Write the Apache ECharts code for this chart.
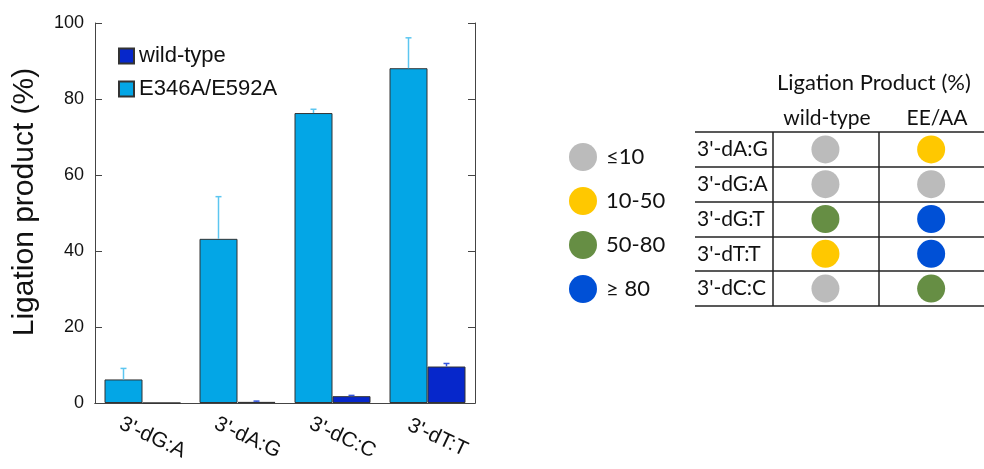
<!DOCTYPE html>
<html>
<head>
<meta charset="utf-8">
<script src="https://cdn.jsdelivr.net/npm/echarts@6/dist/echarts.min.js"></script>
<style>
html,body{margin:0;padding:0;background:#fff;}
#chart{width:984px;height:469px;}
</style>
</head>
<body>
<div id="chart"></div>
<script>
// ---- Bar chart data ----
const categories = ["3'-dG:A", "3'-dA:G", "3'-dC:C", "3'-dT:T"];
const mutantName = 'E346A/E592A';
const wildName = 'wild-type';
const mutantValues = [6.2, 43.2, 76.3, 88.1];
const mutantErrors = [2.9, 11.1, 1.0, 8.0];
const wildValues = [0, 0.3, 1.8, 9.6];
const wildErrors = [0, 0.2, 0.2, 0.8];

// ---- Table data ----
const tableRows = ["3'-dA:G", "3'-dG:A", "3'-dG:T", "3'-dT:T", "3'-dC:C"];
const tableColumns = ['wild-type', 'EE/AA'];
const levelNames = ['≤10', '10-50', '50-80', '≥ 80'];
const wildTypeLevels = [0, 0, 2, 1, 0];
const eeaaLevels = [1, 0, 3, 3, 2];

// ---- styles ----
const levelColors = ['#BBBBBB', '#FFC800', '#668E44', '#0050D6'];
const mutantColor = '#03A6E6';
const wildColor = '#0627CB';
const sansChart = '"Liberation Sans", Arial, sans-serif';
const sansTable = 'Lato, "Open Sans", sans-serif';

function errorSeries(name, values, errors, offsetFrac, color) {
  return {
    type: 'custom',
    name: name + ' err',
    xAxisIndex: 0, yAxisIndex: 0,
    silent: true,
    z: 3,
    data: values.map((v, i) => [i, v, errors[i]]),
    renderItem: function (params, api) {
      const cat = api.value(0), val = api.value(1), err = api.value(2);
      if (!err) return null;
      const band = api.size([1, 0])[0];
      const p = api.coord([cat, val]);
      const q = api.coord([cat, val + err]);
      const x = p[0] + offsetFrac * band;
      const st = { stroke: color, lineWidth: 1.5 };
      return {
        type: 'group',
        children: [
          { type: 'line', shape: { x1: x, y1: p[1], x2: x, y2: q[1] }, style: st },
          { type: 'line', shape: { x1: x - 3, y1: q[1], x2: x + 3, y2: q[1] }, style: st }
        ]
      };
    }
  };
}

const tableSeries = levelNames.map((lv, li) => {
  const data = [];
  tableRows.forEach((r, ri) => {
    if (wildTypeLevels[ri] === li) data.push([0, ri]);
    if (eeaaLevels[ri] === li) data.push([1, ri]);
  });
  return {
    type: 'scatter',
    name: lv,
    xAxisIndex: 2, yAxisIndex: 2,
    symbol: 'circle',
    symbolSize: 28,
    itemStyle: { color: levelColors[li], opacity: 1 },
    data: data,
    silent: true
  };
});
tableSeries[0].markLine = {
  silent: true,
  symbol: ['none', 'none'],
  label: { show: false },
  lineStyle: { color: '#222', width: 1.5, type: 'solid' },
  data: [{ xAxis: -0.5 }, { xAxis: 0.5 }]
};

const axisColor = '#444';
const chart = echarts.init(document.getElementById('chart'), null, { renderer: 'canvas' });
chart.setOption({
  animation: false,
  backgroundColor: '#fff',
  grid: [
    { left: 95, top: 23, width: 380, height: 380 },
    { left: 695, top: 132, width: 298, height: 174 }
  ],
  legend: [
    {
      data: [wildName, mutantName],
      orient: 'vertical',
      left: 113, top: 40,
      icon: 'rect',
      itemWidth: 15, itemHeight: 15, itemGap: 11,
      textStyle: { fontFamily: sansChart, fontSize: 22, color: '#111' },
      selectedMode: false
    },
    {
      data: levelNames,
      orient: 'vertical',
      left: 564, top: 138,
      icon: 'circle',
      itemWidth: 28, itemHeight: 28, itemGap: 16,
      textStyle: { fontFamily: sansTable, fontSize: 22, color: '#111', padding: [0, 0, 0, 4] },
      selectedMode: false
    }
  ],
  xAxis: [
    {
      type: 'category', data: categories, gridIndex: 0, position: 'bottom',
      axisLine: { lineStyle: { color: axisColor, width: 1 } },
      axisTick: { inside: true, length: 7, lineStyle: { color: axisColor } },
      axisLabel: { rotate: -25, align: 'center', verticalAlign: 'middle', margin: 30,
                   padding: [0, 0, 0, 22],
                   fontFamily: sansChart, fontSize: 21, color: '#111' }
    },
    {
      type: 'category', data: categories, gridIndex: 0, position: 'top',
      axisLine: { lineStyle: { color: axisColor, width: 1 } },
      axisTick: { inside: true, length: 7, lineStyle: { color: axisColor } },
      axisLabel: { show: false }
    },
    {
      type: 'value', gridIndex: 1, min: -1.234, max: 1.5,
      show: false
    }
  ],
  yAxis: [
    {
      type: 'value', gridIndex: 0, min: 0, max: 100, interval: 20,
      axisLine: { show: true, lineStyle: { color: axisColor, width: 1 } },
      axisTick: { show: true, inside: true, length: 7, lineStyle: { color: axisColor } },
      splitLine: { show: false },
      axisLabel: { fontFamily: sansChart, fontSize: 18, color: '#111', margin: 11 },
      name: 'Ligation product (%)',
      nameLocation: 'middle', nameGap: 55, nameRotate: 90,
      nameTextStyle: { fontFamily: sansChart, fontSize: 30, color: '#111', padding: [0, 0, 0, 22] }
    },
    {
      type: 'value', gridIndex: 0, min: 0, max: 100, interval: 20, position: 'right',
      axisLine: { show: true, lineStyle: { color: axisColor, width: 1 } },
      axisTick: { show: true, inside: true, length: 7, lineStyle: { color: axisColor } },
      splitLine: { show: false },
      axisLabel: { show: false }
    },
    {
      type: 'category', gridIndex: 1, data: tableRows, inverse: true,
      axisLine: { show: false }, axisTick: { show: false },
      splitLine: { show: true, lineStyle: { color: '#222', width: 1.5 } },
      axisLabel: { inside: true, align: 'left', margin: 2,
                   fontFamily: sansTable, fontSize: 21, color: '#111' }
    }
  ],
  graphic: [
    { type: 'text', left: 777, top: 72, style: { text: 'Ligation Product (%)', font: '22px ' + sansTable, fill: '#111' } },
    { type: 'text', x: 827, y: 118, style: { text: tableColumns[0], font: '21px ' + sansTable, fill: '#111', align: 'center', verticalAlign: 'middle' } },
    { type: 'text', x: 937, y: 118, style: { text: tableColumns[1], font: '21px ' + sansTable, fill: '#111', align: 'center', verticalAlign: 'middle' } }
  ],
  series: [
    {
      type: 'bar', name: mutantName, xAxisIndex: 0, yAxisIndex: 0,
      data: mutantValues, barGap: '0%', barCategoryGap: '20%',
      itemStyle: { color: mutantColor, borderColor: '#333', borderWidth: 1 }
    },
    {
      type: 'bar', name: wildName, xAxisIndex: 0, yAxisIndex: 0,
      data: wildValues, barGap: '0%', barCategoryGap: '20%',
      itemStyle: { color: wildColor, borderColor: '#333', borderWidth: 1 }
    },
    errorSeries(mutantName, mutantValues, mutantErrors, -0.2, '#5CC6F0'),
    errorSeries(wildName, wildValues, wildErrors, 0.2, '#3355DD')
  ].concat(tableSeries)
});
</script>
</body>
</html>
